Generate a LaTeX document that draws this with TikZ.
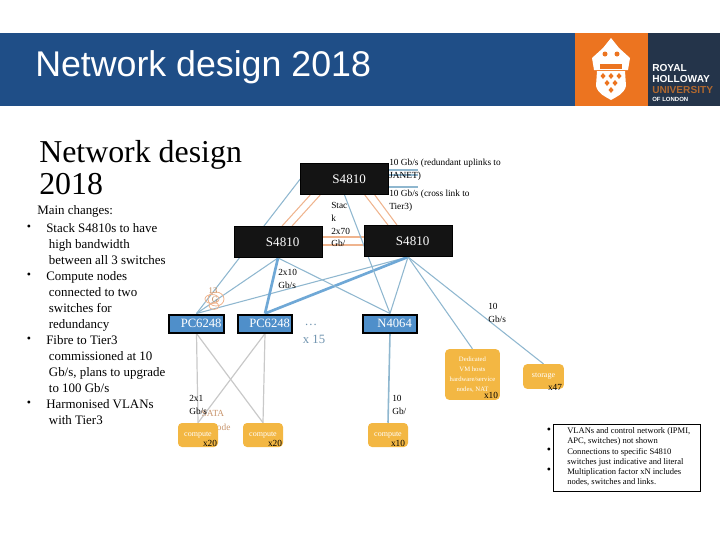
\documentclass[tikz,border=0pt]{standalone}
\usepackage{fontspec}
\setmainfont{Liberation Serif}
\setsansfont{Liberation Sans}
\usepackage{tikz}
\usetikzlibrary{shapes.geometric, arrows.meta, positioning, calc, backgrounds}
\usepackage{xcolor}
\definecolor{cHeader}{HTML}{1F4E87}
\definecolor{cLogo}{HTML}{24344A}
\definecolor{cCrest}{HTML}{EC7420}
\definecolor{cRust}{HTML}{B0682F}
\definecolor{cBlack}{HTML}{141414}
\definecolor{cSwitch}{HTML}{4F8FCA}
\definecolor{cNode}{HTML}{F3B743}
\definecolor{cLink}{HTML}{8FB7CF}
\definecolor{cThick}{HTML}{6FA8D6}
\definecolor{cGrey}{HTML}{C9C9C9}
\definecolor{cStack}{HTML}{EFB48E}
\definecolor{cCount}{HTML}{6F93AE}
\tikzset{
  corebox/.style={
    draw=black, fill=cBlack, minimum width=66pt, minimum height=23.5pt,
    font=\fontsize{9.8}{12}\selectfont, text=white, inner sep=0pt,
    execute at begin node=\hspace{7pt},
  },
  edgebox/.style={
    draw=black, fill=cSwitch, line width=1.5pt,
    minimum width=41pt, minimum height=13.5pt,
    font=\fontsize{9.5}{12}\selectfont, text=white, inner sep=0pt,
    execute at begin node=\hspace{7pt},
  },
  hostbox/.style={
    fill=cNode, rounded corners=3pt,
    minimum width=30pt, minimum height=18pt,
    font=\fontsize{6}{7.5}\selectfont, text=white, inner sep=0pt,
    align=center,
  },
  countlabel/.style={font=\fontsize{7}{8}\selectfont, text=black, inner sep=0pt},
  linklabel/.style={font=\fontsize{7}{9.6}\selectfont, text=black, inner sep=0pt, align=left},
  changes/.style={anchor=west, font=\fontsize{9.7}{12}\selectfont, inner sep=0pt, align=left},
  bulletmark/.style={font=\fontsize{9}{9}\selectfont, inner sep=0pt},
  notes/.style={anchor=west, font=\fontsize{6.4}{7.6}\selectfont, inner sep=0pt, align=left},
  logotext/.style={anchor=west, font=\sffamily\bfseries\fontsize{7.6}{8}\selectfont, text=white, inner sep=0pt},
  thinlink/.style={cLink, line width=0.8pt},
  thicklink/.style={cThick, line width=2pt},
  greylink/.style={cGrey, line width=0.9pt},
  stacklink/.style={cStack, line width=0.8pt},
}
\begin{document}
\begin{tikzpicture}[x=0.75pt, y=-0.75pt]
  \useasboundingbox (0,0) rectangle (720,540);

  % Header
  \fill[cHeader] (0,33) rectangle (720,106);
  \fill[cCrest] (575,33) rectangle (648,106);
  \fill[cLogo] (648,33) rectangle (720,106);
  \node[anchor=west, font=\sffamily\fontsize{26.8}{30}\selectfont, text=white, inner sep=0pt]
    (header) at (35,67.5) {Network design 2018};

  % Crest
  \fill[white] (597,71) -- (625,71) -- (626,86) .. controls (624,94) and (616,97) .. (611,100)
    .. controls (606,97) and (598,94) .. (596,86) -- cycle;
  \fill[white] (611,38) -- (619,48) -- (630,58) -- (628,70) -- (594,70) -- (592,58) -- (603,48) -- cycle;
  \fill[cCrest] (600,64) rectangle (622,69);
  \fill[cCrest] (605,54) circle (2.5);
  \fill[cCrest] (617,54) circle (2.5);
  \foreach \px/\py in {603/76, 611/76, 619/76, 607/83, 615/83, 611/90}
    \fill[cCrest] (\px,\py-3) -- (\px+2.5,\py) -- (\px,\py+3) -- (\px-2.5,\py) -- cycle;

  \node[logotext] (royal) at (652,68) {ROYAL};
  \node[logotext] (holloway) at (652,79) {HOLLOWAY};
  \node[logotext, text=cRust] (university) at (652,90) {UNIVERSITY};
  \node[logotext, font=\sffamily\bfseries\fontsize{4.5}{5}\selectfont] (london) at (652,99) {OF LONDON};

  % Left column
  \node[anchor=north west, font=\fontsize{23.9}{24}\selectfont, inner sep=0pt, align=left]
    (title) at (39,140) {Network design\\2018};

  \node[changes] (main) at (37,211.5) {Main changes:};
  \node[bulletmark] (b1) at (29,228) {•};
  \node[changes, anchor=north west] (c1) at (46,223) {Stack S4810s to have\\\hspace{2pt}high bandwidth\\\hspace{2pt}between all 3 switches};
  \node[bulletmark] (b2) at (29,276) {•};
  \node[changes, anchor=north west] (c2) at (46,271) {Compute nodes\\\hspace{2pt}connected to two\\\hspace{2pt}switches for\\\hspace{2pt}redundancy};
  \node[bulletmark] (b3) at (29,340) {•};
  \node[changes, anchor=north west] (c3) at (46,335) {Fibre to Tier3\\\hspace{2pt}commissioned at 10\\\hspace{2pt}Gb/s, plans to upgrade\\\hspace{2pt}to 100 Gb/s};
  \node[bulletmark] (b4) at (29,404) {•};
  \node[changes, anchor=north west] (c4) at (46,399) {Harmonised VLANs\\\hspace{2pt}with Tier3};

  % Core switches
  \node[corebox] (top) at (344.5,179) {S4810};
  \node[corebox] (left) at (278,242) {S4810};
  \node[corebox] (right) at (408,241) {S4810};

  % Edge switches
  \node[edgebox] (pc1) at (196.5,323.5) {PC6248};
  \node[edgebox] (pc2) at (265,323.5) {PC6248};
  \node[edgebox] (n4064) at (390,323.5) {N4064};

  \node[font=\fontsize{9.5}{10}\selectfont, text=cCount, inner sep=0pt] (dots) at (311,325) {\dots};
  \node[font=\fontsize{9.5}{10}\selectfont, text=cCount, inner sep=0pt] (x15) at (314,339) {x 15};

  % Hosts
  \node[font=\fontsize{7}{10}\selectfont, text=cRust!70, inner sep=0pt, align=left]
    (sata) at (216,420.5) {SATA\\\hspace{8pt}node};
  \node[hostbox] (comp1) at (198,435) {compute};
  \node[hostbox] (comp2) at (263,435) {compute};
  \node[hostbox] (comp3) at (388,435) {compute};
  \node[hostbox, minimum width=41pt, minimum height=38pt, font=\fontsize{5}{7.5}\selectfont]
    (dedicated) at (472.5,374.5) {Dedicated\\VM hosts\\hardware/service\\nodes, NAT\hspace{6pt}};
  \node[hostbox, minimum width=30.5pt, minimum height=18.5pt] (storage) at (543.5,376.5) {storage};

  \node[countlabel] (n1) at (210,443) {x20};
  \node[countlabel] (n2) at (275,443) {x20};
  \node[countlabel] (n3) at (398,443) {x10};
  \node[countlabel] (n4) at (491,395) {x10};
  \node[countlabel] (n5) at (555,387) {x47};

  % Uplink ends
  \coordinate (up1) at (418,170);
  \coordinate (up2) at (418,175);
  \coordinate (up3) at (418,187);

  % Connectors
  \begin{scope}[on background layer]
    \draw[thinlink] ($(top.east)+(0,-9)$) -- (up1);
    \draw[thinlink] ($(top.east)+(0,-4)$) -- (up2);
    \draw[thinlink] ($(top.east)+(0,8)$) -- (up3);

    \draw[stacklink] ($(top.south west)+(10,0)$) -- ($(left.north)+(4,0)$);
    \draw[stacklink] ($(top.south west)+(20,0)$) -- ($(left.north)+(14,0)$);
    \draw[stacklink] ($(top.south east)+(-24,0)$) -- ($(right.north)+(-20,0)$);
    \draw[stacklink] ($(top.south east)+(-14,0)$) -- ($(right.north)+(-11,0)$);
    \draw[stacklink] ($(left.east)+(0,-5)$) -- ($(right.west)+(0,-4)$);
    \draw[stacklink] ($(left.east)+(0,3)$) -- ($(right.west)+(0,4)$);

    \draw[thinlink] (top.west) -- (pc1.north);
    \draw[thinlink] (left.south) -- (pc1.north);
    \draw[thinlink] (right.south) -- (pc1.north);
    \draw[thicklink] (left.south) -- (pc2.north);
    \draw[thicklink] (right.south) -- (pc2.north);
    \draw[thinlink] (left.south) -- (n4064.north);
    \draw[thinlink] (right.south) -- (n4064.north);
    \draw[thinlink] (top.south) -- (n4064.north);
    \draw[thinlink] (right.south) -- (dedicated.north);
    \draw[thinlink] (right.south) -- (storage.north);
    \draw[thinlink, line width=1.2pt] (n4064.south) -- (comp3.north);

    \draw[greylink] (pc1.south) -- (comp1.north);
    \draw[greylink] (pc1.south) -- (comp2.north);
    \draw[greylink] (pc2.south) -- (comp1.north);
    \draw[greylink] (pc2.south) -- (comp2.north);
  \end{scope}

  % Link labels
  \node[linklabel, anchor=north west] (uplinks) at (389,159)
    {10 Gb/s (redundant uplinks to\\JANET)};
  \node[linklabel, anchor=north west] (crosslink) at (389,190)
    {10 Gb/s (cross link to\\Tier3)};
  \node[linklabel, anchor=north west] (stack) at (331,202) {Stac\\k\\2x70\\Gb/};
  \node[linklabel, anchor=north west] (two10) at (278,269) {2x10\\Gb/s};
  \node[linklabel, anchor=north west] (ten1) at (488,303) {10\\Gb/s};
  \node[linklabel, anchor=north west] (ten2) at (392,395) {10\\Gb/};
  \node[linklabel, anchor=north west] (two1) at (189,395) {2x1\\Gb/s};

  % Orange marks at PC6248
  \draw[cStack, line width=0.6pt] (212,299) ellipse (7 and 4.5);
  \draw[cStack, line width=0.6pt] (216,299) ellipse (8 and 7);
  \draw[cStack, line width=0.6pt] (214,306) ellipse (5 and 3.5);
  \node[font=\fontsize{6.5}{7}\selectfont, text=cRust!80, inner sep=0pt] (lab13) at (213,291) {13};
  \node[font=\fontsize{6.5}{7}\selectfont, text=cRust!80, inner sep=0pt] (labg) at (215,300) {G};

  % Notes
  \node[draw=black, line width=0.8pt, minimum width=110pt, minimum height=50pt, inner sep=0pt]
    (notebox) at (627,458) {};
  \node[bulletmark] (m1) at (549,431) {•};
  \node[notes] (t1) at (567,436.5) {VLANs and control network (IPMI,\\APC, switches) not shown};
  \node[bulletmark] (m2) at (549,451) {•};
  \node[notes] (t2) at (567,457) {Connections to specific S4810\\switches just indicative and literal};
  \node[bulletmark] (m3) at (549,471) {•};
  \node[notes] (t3) at (567,477) {Multiplication factor xN includes\\nodes, switches and links.};

\end{tikzpicture}
\end{document}
